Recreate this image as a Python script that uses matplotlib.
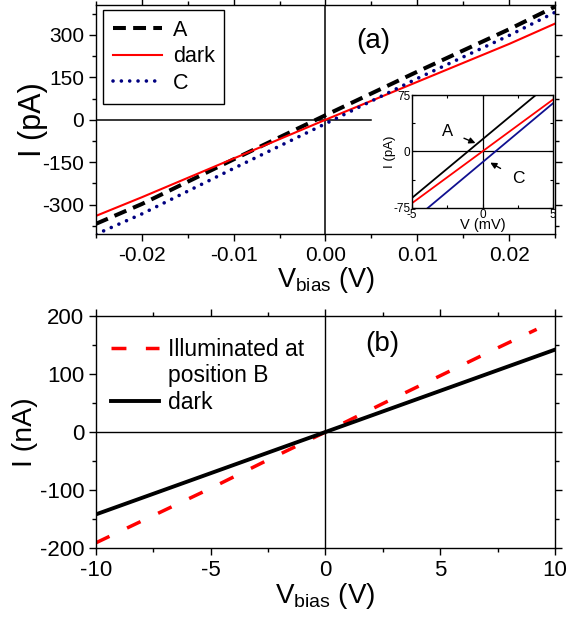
import matplotlib
matplotlib.use('Agg')
import matplotlib.pyplot as plt
from matplotlib.ticker import MultipleLocator

plt.rcParams['font.family'] = ['Liberation Sans', 'DejaVu Sans']
plt.rcParams['mathtext.fontset'] = 'custom'
plt.rcParams['mathtext.rm'] = 'Liberation Sans'
plt.rcParams['axes.unicode_minus'] = False

# panel (a): I-V near zero bias, pA
va = [-0.025, -0.02, -0.01, 0.0, 0.01, 0.02, 0.025]
ia_A = [-368, -298, -140, 16, 170, 320, 400]
ia_dark = [-340, -274, -137, 0, 134, 268, 340]
ia_C = [-405, -333, -172, -14, 146, 298, 380]

# inset of (a): mV / pA
v_in = [-5, 5]
i_in_A = [-62, 94]
i_in_dark = [-69, 69]
i_in_C = [-93, 64]

# panel (b): I-V at large bias, nA
vb_ill = [-10, -7.5, -5, -2.5, 0, 2.5, 5, 7.5, 9.2]
ib_ill = [-191, -144, -97, -48, 0, 49, 97, 145, 177]
vb_dark = [-10, -5, 0, 5, 10]
ib_dark = [-142, -71, 0, 71, 142]

NAVY = '#000080'

fig = plt.figure(figsize=(5.69, 6.19), dpi=100)


def style(ax, fs):
    ax.tick_params(which='both', direction='out', top=True, right=True,
                   labelsize=fs, width=1, pad=3.5)
    ax.tick_params(which='major', length=5)
    ax.tick_params(which='minor', length=2.8)
    for s in ax.spines.values():
        s.set_linewidth(1)


# ---- (a)
ax1 = fig.add_axes([0.1687, 0.622, 0.8067, 0.370])
ax1.plot([-0.025, 0.005], [0, 0], color='k', lw=1.1, zorder=1)
ax1.axvline(0, color='k', lw=1.1, zorder=1)
ax1.plot(va, ia_A, color='k', lw=2.9, dashes=(3.2, 1.8), label='A')
ax1.plot(va, ia_dark, color='red', lw=1.5, label='dark')
ax1.plot(va, ia_C, color=NAVY, lw=2.6, dashes=(0.01, 2.3),
         dash_capstyle='round', label='C')
ax1.set_xlim(-0.025, 0.025)
ax1.set_ylim(-404, 406)
ax1.xaxis.set_major_locator(MultipleLocator(0.01))
ax1.xaxis.set_minor_locator(MultipleLocator(0.005))
ax1.yaxis.set_major_locator(MultipleLocator(150))
ax1.yaxis.set_minor_locator(MultipleLocator(75))
ax1.xaxis.set_major_formatter(lambda x, p: '%.2f' % x)
style(ax1, 15)
ax1.set_xlabel('V$_{\\mathregular{bias}}$ (V)', fontsize=19.5, labelpad=0)
ax1.set_ylabel('I (pA)', fontsize=22, labelpad=-4)
ax1.text(0.00525, 279, '(a)', fontsize=20, ha='center', va='center')
leg = ax1.legend(loc='upper left', bbox_to_anchor=(0.015, 0.978),
                 fontsize=15.5, handlelength=2.3, handletextpad=0.5,
                 borderpad=0.45, labelspacing=0.26, borderaxespad=0,
                 fancybox=False, edgecolor='k', framealpha=1)
leg.get_frame().set_linewidth(1)

# inset
axi = fig.add_axes([0.7241, 0.6645, 0.2478, 0.182])
axi.axhline(0, color='k', lw=0.9)
axi.axvline(0, color='k', lw=0.9)
axi.plot(v_in, i_in_A, color='k', lw=1.3)
axi.plot(v_in, i_in_dark, color='red', lw=1.3)
axi.plot(v_in, i_in_C, color='#101090', lw=1.3)
axi.set_xlim(-5, 5)
axi.set_ylim(-75, 75)
axi.set_xticks([-5, 0, 5])
axi.set_yticks([-75, 0, 75])
axi.xaxis.set_minor_locator(MultipleLocator(2.5))
axi.yaxis.set_minor_locator(MultipleLocator(37.5))
axi.tick_params(which='both', direction='in', labelsize=8.5, pad=1,
                top=True, right=True, width=0.8)
axi.tick_params(which='major', length=3)
axi.tick_params(which='minor', length=2)
for s in axi.spines.values():
    s.set_linewidth(1)
axi.set_xlabel('V (mV)', fontsize=10.5, labelpad=-2)
axi.set_ylabel('I (pA)', fontsize=9.5, labelpad=-2)
axi.annotate('A', xy=(-0.5, 11), xytext=(-2.45, 26.5), fontsize=12,
             ha='center', va='center',
             arrowprops=dict(arrowstyle='-|>', color='k', lw=1,
                             mutation_scale=9, shrinkA=6, shrinkB=0))
axi.annotate('C', xy=(0.55, -15), xytext=(2.52, -36), fontsize=12.5,
             ha='center', va='center',
             arrowprops=dict(arrowstyle='-|>', color='k', lw=1,
                             mutation_scale=9, shrinkA=7, shrinkB=0))

# ---- (b)
ax2 = fig.add_axes([0.1687, 0.1147, 0.8067, 0.3748])
ax2.axhline(0, color='k', lw=1.0, zorder=1)
ax2.axvline(0, color='k', lw=1.0, zorder=1)
ax2.plot(vb_ill, ib_ill, color='red', lw=2.5, dashes=(4.3, 5.6),
         label='Illuminated at')
ax2.plot([], [], color='none', label='position B')
ax2.plot(vb_dark, ib_dark, color='k', lw=2.8, label='dark')
ax2.set_xlim(-10, 10)
ax2.set_ylim(-200, 200)
ax2.xaxis.set_major_locator(MultipleLocator(5))
ax2.xaxis.set_minor_locator(MultipleLocator(2.5))
ax2.yaxis.set_major_locator(MultipleLocator(100))
ax2.yaxis.set_minor_locator(MultipleLocator(50))
style(ax2, 16)
ax2.set_xlabel('V$_{\\mathregular{bias}}$ (V)', fontsize=20, labelpad=0)
ax2.set_ylabel('I (nA)', fontsize=20.5, labelpad=1)
ax2.text(2.46, 152, '(b)', fontsize=20, ha='center', va='center')
ax2.legend(loc='upper left', bbox_to_anchor=(-0.008, 0.985), fontsize=16.5,
           handlelength=2.1, handletextpad=0.4, borderpad=0.3,
           labelspacing=0.16, frameon=False)

fig.savefig('out.png', dpi=100)
